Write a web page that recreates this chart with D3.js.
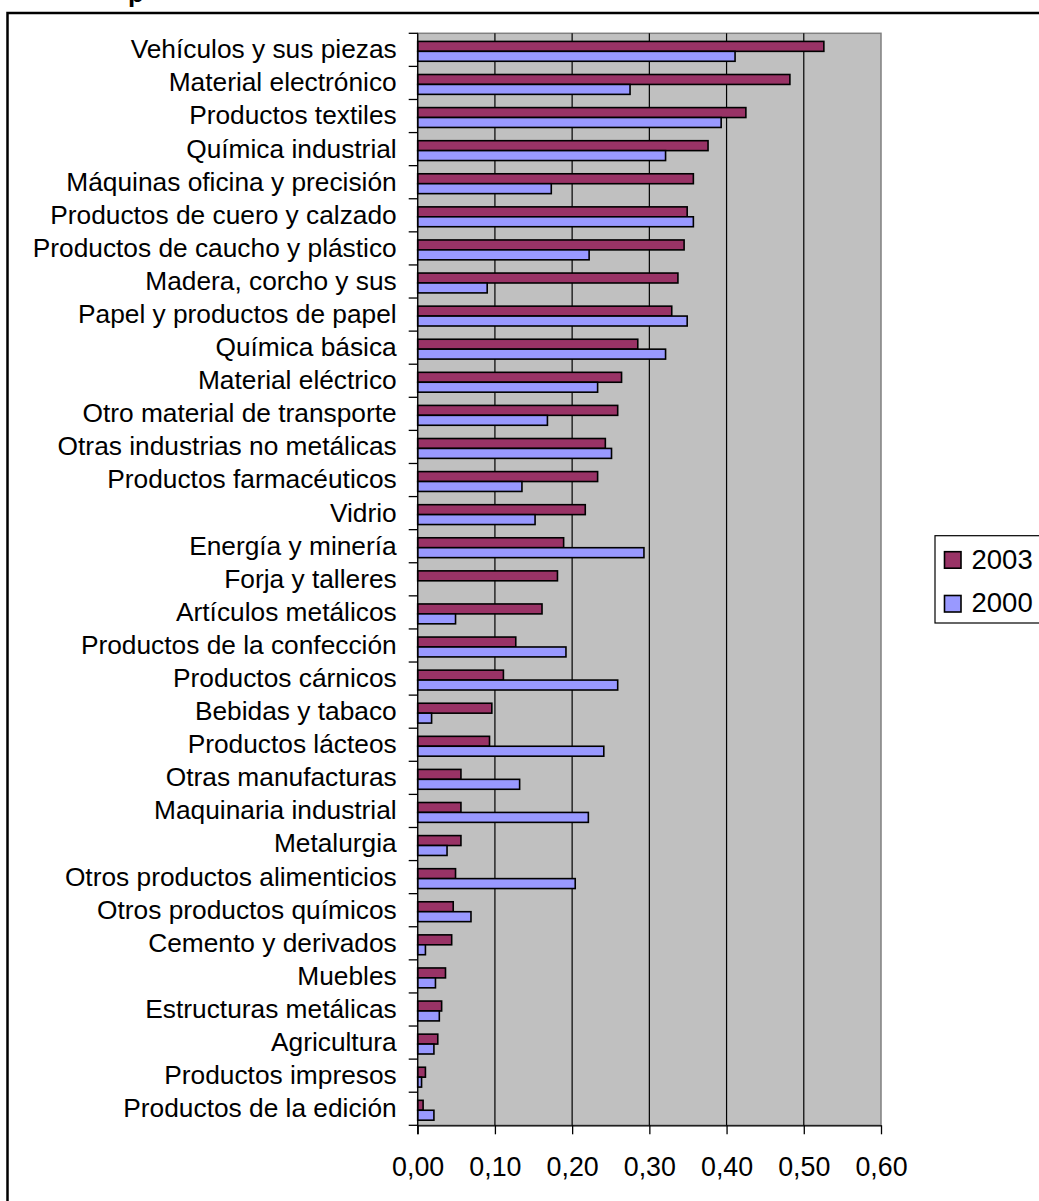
<!DOCTYPE html>
<html><head><meta charset="utf-8">
<script src="https://cdn.jsdelivr.net/npm/d3@7"></script>
<style>
html,body{margin:0;padding:0;background:#fff;}
svg{display:block;font-family:"Liberation Sans",Arial,sans-serif;}
</style></head>
<body>
<svg id="chart" width="1039" height="1201"></svg>
<script>
const categories = [
"Vehículos y sus piezas","Material electrónico","Productos textiles","Química industrial",
"Máquinas oficina y precisión","Productos de cuero y calzado","Productos de caucho y plástico",
"Madera, corcho y sus","Papel y productos de papel","Química básica","Material eléctrico",
"Otro material de transporte","Otras industrias no metálicas","Productos farmacéuticos","Vidrio",
"Energía y minería","Forja y talleres","Artículos metálicos","Productos de la confección",
"Productos cárnicos","Bebidas y tabaco","Productos lácteos","Otras manufacturas",
"Maquinaria industrial","Metalurgia","Otros productos alimenticios","Otros productos químicos",
"Cemento y derivados","Muebles","Estructuras metálicas","Agricultura","Productos impresos",
"Productos de la edición"];
const values2003 = [0.526,0.482,0.425,0.376,0.357,0.349,0.345,0.337,0.329,0.285,0.264,0.259,0.243,0.233,0.217,0.189,0.181,0.161,0.127,0.111,0.096,0.093,0.056,0.056,0.056,0.049,0.046,0.044,0.036,0.031,0.026,0.010,0.007];
const values2000 = [0.411,0.275,0.393,0.321,0.173,0.357,0.222,0.090,0.349,0.321,0.233,0.168,0.251,0.135,0.152,0.293,0,0.049,0.192,0.259,0.018,0.241,0.132,0.221,0.038,0.204,0.069,0.010,0.023,0.028,0.021,0.005,0.021];
const seriesNames = ["2003","2000"];
const seriesColors = ["#993366","#9999FF"];
const xTicks = [0,0.1,0.2,0.3,0.4,0.5,0.6];
const xTickLabels = ["0,00","0,10","0,20","0,30","0,40","0,50","0,60"];

(function(){
const svg = d3.select("#chart");
const FS = 26.3;
const pL = 417.7, pR = 881, pT = 33.3, pB = 1125.3;

// outer frame
svg.append("rect").attr("x",7.5).attr("y",13).attr("width",1060).attr("height",1220)
  .attr("fill","none").attr("stroke","#000").attr("stroke-width",2.5);
// clipped title remnant
svg.append("text").attr("x",128).attr("y",1.5).attr("font-size",26).attr("font-weight","bold").text("p");

const x = d3.scaleLinear().domain([0,0.6]).range([pL,pR]);
const y = d3.scaleBand().domain(categories).range([pT,pB]).paddingInner(0).paddingOuter(0);
const bw = y.bandwidth();
const barH = bw*0.30;
const sub = d3.scaleBand().domain(seriesNames).range([0,barH*2]);

// plot background
svg.append("rect").attr("x",pL).attr("y",pT).attr("width",pR-pL).attr("height",pB-pT)
  .attr("fill","#C0C0C0").attr("stroke","#808080").attr("stroke-width",1.5);

// gridlines
svg.append("g").selectAll("line").data(xTicks.slice(1,-1)).join("line")
  .attr("x1",d=>x(d)).attr("x2",d=>x(d)).attr("y1",pT).attr("y2",pB)
  .attr("stroke","#000").attr("stroke-width",1.2);

// bars
const data = categories.map((c,i)=>({c, v:[values2003[i],values2000[i]]}));
const gBars = svg.append("g");
data.forEach(d=>{
  const y0 = y(d.c) + bw/2 + 1.5 - barH;
  seriesNames.forEach((s,k)=>{
    if (d.v[k] <= 0) return;
    gBars.append("rect")
      .attr("x",x(0)).attr("y",y0+sub(s))
      .attr("width",x(d.v[k])-x(0)).attr("height",sub.bandwidth())
      .attr("fill",seriesColors[k]).attr("stroke","#000").attr("stroke-width",1.6);
  });
});

// x axis
const xAxis = d3.axisBottom(x).tickValues(xTicks).tickSize(9).tickSizeOuter(0)
  .tickFormat((d,i)=>xTickLabels[i]);
const gx = svg.append("g").attr("transform",`translate(0,${pB})`).call(xAxis);
gx.select(".domain").attr("stroke","#000").attr("stroke-width",1.3);
gx.selectAll(".tick line").attr("stroke","#000").attr("stroke-width",1.3);
gx.selectAll(".tick text").attr("font-size",26.8).attr("fill","#000")
  .attr("font-family","'Liberation Sans',Arial,sans-serif").attr("y",0).attr("dy",0)
  .attr("transform","translate(0,50.5)");

// y axis
svg.append("line").attr("x1",pL).attr("x2",pL).attr("y1",pT).attr("y2",pB+9)
  .attr("stroke","#000").attr("stroke-width",1.3);
const bounds = categories.map(c=>y(c)).concat([pB]);
svg.append("g").selectAll("line").data(bounds).join("line")
  .attr("x1",pL-9).attr("x2",pL).attr("y1",d=>d).attr("y2",d=>d)
  .attr("stroke","#000").attr("stroke-width",1.3);
svg.append("g").selectAll("text").data(categories).join("text")
  .attr("x",pL-21).attr("y",d=>y(d)+bw/2).attr("dy","0.32em")
  .attr("text-anchor","end").attr("font-size",FS).attr("fill","#000").text(d=>d);

// legend
const lg = svg.append("g");
lg.append("rect").attr("x",935).attr("y",535.7).attr("width",120).attr("height",87.3)
  .attr("fill","#fff").attr("stroke","#000").attr("stroke-width",1.2);
const legY = [551.7, 595.5];
seriesNames.forEach((s,k)=>{
  lg.append("rect").attr("x",944.5).attr("y",legY[k]).attr("width",16.5).attr("height",16.5)
    .attr("fill",seriesColors[k]).attr("stroke","#000").attr("stroke-width",1.6);
  lg.append("text").attr("x",971.5).attr("y",legY[k]+16.8).attr("font-size",27.5).attr("fill","#000").text(s);
});
})();
</script>
</body></html>
